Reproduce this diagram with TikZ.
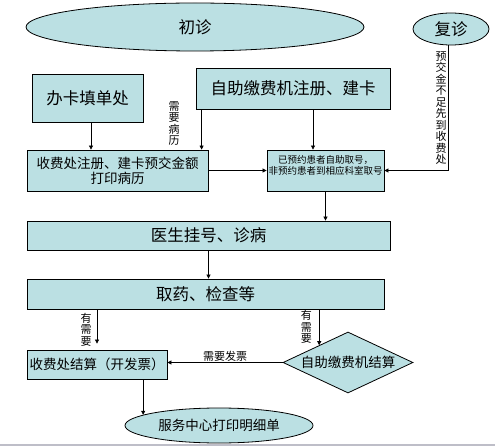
\documentclass[tikz,border=0pt]{standalone}
\usepackage{fontspec}
\setmainfont{Noto Sans CJK SC}
\usetikzlibrary{shapes.geometric,arrows.meta,backgrounds}
\newcommand{\flowbig}{\fontsize{16.5}{19}\selectfont}
\newcommand{\flowmid}{\fontsize{13.5}{15}\selectfont}
\newcommand{\flowtiny}{\fontsize{9.5}{11}\selectfont}
\newcommand{\flowlabel}{\fontsize{11}{11.5}\selectfont}

\begin{document}
\begin{tikzpicture}[x=1pt,y=-1pt,
    proc/.style={rectangle, draw=black, line width=0.8pt, fill=boxfill, inner sep=1pt},
    oval/.style={ellipse, draw=black, line width=0.8pt, fill=boxfill, inner sep=1pt},
    decide/.style={diamond, draw=black, line width=0.8pt, fill=boxfill, inner sep=0pt, shape aspect=2.13},
    flow/.style={-{Triangle[length=4pt,width=4pt]}, line width=0.7pt},
    vlabel/.style={align=center, inner sep=1pt, font=\flowlabel}]
    % Define colors
    \definecolor{boxfill}{RGB}{187, 224, 227}
    \definecolor{edgegray}{RGB}{190, 190, 200}

    \useasboundingbox (0,0) rectangle (495,446);
    \fill[white] (0,0) rectangle (495,446);
    \fill[edgegray] (0,444) rectangle (495,446);

    % Draw the ovals
    \node[oval, minimum width=338pt, minimum height=48pt, font=\flowbig] (chuzhen) at (195,27) {初诊};
    \node[oval, minimum width=76pt, minimum height=32pt, font=\flowbig] (fuzhen) at (451,29) {复诊};
    \node[oval, minimum width=188pt, minimum height=35pt, font=\flowmid] (mingxi) at (219,425.5) {服务中心打印明细单};

    % Draw the boxes
    \node[proc, minimum width=111pt, minimum height=48pt, font=\flowbig] (banka) at (87.5,98) {办卡填单处};
    \node[proc, minimum width=194pt, minimum height=41pt, font=\flowbig] (zizhu) at (293,88.5) {自助缴费机注册、建卡};
    \node[proc, minimum width=181pt, minimum height=41pt, font=\flowmid, align=center] (shoufei) at (117.5,170.5) {收费处注册、建卡预交金额\\打印病历};
    \node[proc, minimum width=117pt, minimum height=41pt, font=\flowtiny, align=center] (quhao) at (325.5,170.5) {已预约患者自助取号，\\非预约患者到相应科室取号\\\mbox{}};
    \node[proc, minimum width=363pt, minimum height=29pt, font=\flowbig] (guahao) at (208.5,235.5) {医生挂号、诊病};
    \node[proc, minimum width=357pt, minimum height=30pt, font=\flowbig] (quyao) at (205.5,294) {取药、检查等};
    \node[proc, minimum width=140pt, minimum height=29pt, font=\flowmid] (jiesuan) at (97,364.5) {收费处结算（开发票）};
    \node[decide, minimum width=130pt, minimum height=61pt, font=\flowmid] (zijiesuan) at (348,362.5) {自助缴费机结算};

    % Draw the arrows that start under a shape
    \begin{pgfonlayer}{background}
    \draw[flow] ([xshift=3.5pt]banka.north |- chuzhen.center) -- ([xshift=3.5pt]banka.north);
    \draw[flow] ([xshift=-2pt]zizhu.north |- chuzhen.center) -- ([xshift=-2pt]zizhu.north);
    \draw[flow] (mingxi.6 |- zijiesuan.center) -- (mingxi.6);
    \end{pgfonlayer}

    % Draw the other arrows
    \draw[flow] ([xshift=3.5pt]banka.south) -- ([xshift=3.5pt]banka.south |- shoufei.north);
    \draw[flow] ([xshift=6pt]zizhu.south west) -- ([xshift=6pt]zizhu.south west |- shoufei.north);
    \draw[flow] ([xshift=20pt]zizhu.south) -- ([xshift=20pt]zizhu.south |- quhao.north);
    \draw[flow] (shoufei.east) -- (shoufei.east -| quhao.west);
    \draw[flow] ([xshift=-3pt]fuzhen.south) -- ([xshift=-3pt]fuzhen.south |- quhao.east)
        node[midway, left, vlabel] {预\\交\\金\\不\\足\\先\\到\\收\\费\\处} -- (quhao.east);
    \draw[flow] (quhao.south) -- (quhao.south |- guahao.north);
    \draw[flow] (guahao.south) -- (guahao.south |- quyao.north);
    \draw[flow, shorten >=6pt] (jiesuan.north |- quyao.south) -- (jiesuan.north)
        node[midway, left, vlabel, xshift=-4pt] {有\\需\\要};
    \draw[flow] (zijiesuan.149 |- quyao.south) -- (zijiesuan.149)
        node[midway, left, vlabel, xshift=-6pt] {有\\需\\要};
    \draw[flow] (zijiesuan.west) -- (zijiesuan.west -| jiesuan.east)
        node[midway, above, inner sep=0.5pt, font=\flowlabel] {需要发票};
    \draw[flow] (mingxi.172 |- jiesuan.south) -- (mingxi.172);

    % Labels
    \node[vlabel] (binglilabel) at (174,123.5) {需\\要\\病\\历};
\end{tikzpicture}
\end{document}
